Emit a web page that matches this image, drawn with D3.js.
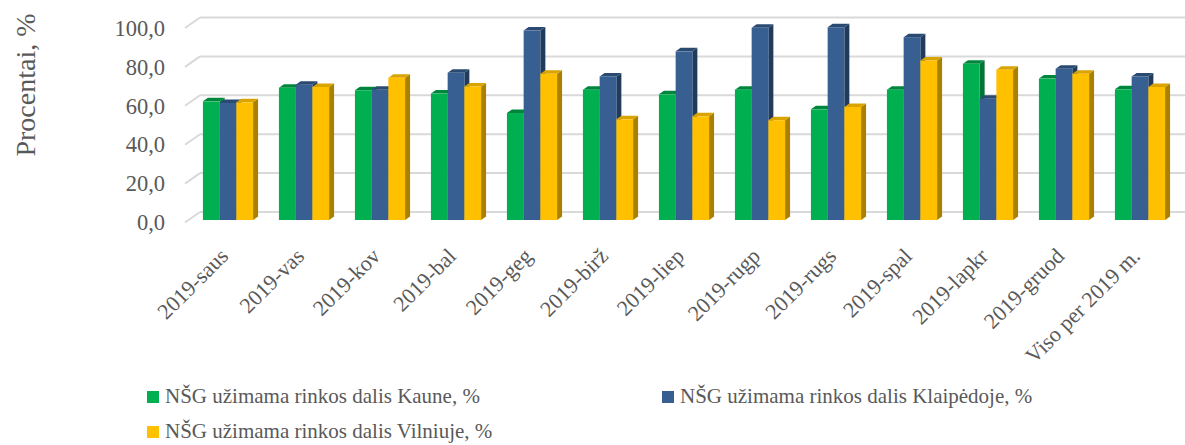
<!DOCTYPE html>
<html>
<head>
<meta charset="utf-8">
<script src="https://cdn.jsdelivr.net/npm/d3@7"></script>
<style>
  body { margin: 0; background: #fff; }
  svg { display: block; font-family: "Liberation Serif", "Times New Roman", serif; }
</style>
</head>
<body>
<svg id="chart" width="1185" height="445"></svg>
<script>
// duomenys
const categories = ['2019-saus', '2019-vas', '2019-kov', '2019-bal', '2019-geg', '2019-birž', '2019-liep',
  '2019-rugp', '2019-rugs', '2019-spal', '2019-lapkr', '2019-gruod', 'Viso per 2019 m.'];
const kaunas   = [61.0, 68.0, 66.7, 65.0, 55.0, 67.0, 64.6, 67.0, 56.9, 67.0, 80.3, 72.7, 67.2];
const klaipeda = [60.2, 69.6, 67.0, 75.7, 97.4, 73.8, 86.7, 98.8, 99.1, 94.0, 62.4, 77.8, 73.8];
const vilnius  = [60.5, 68.4, 73.2, 68.7, 75.2, 51.8, 53.3, 51.3, 58.1, 82.0, 77.3, 75.2, 68.4];
const seriesNames = ['NŠG užimama rinkos dalis Kaune, %', 'NŠG užimama rinkos dalis Klaipėdoje, %',
  'NŠG užimama rinkos dalis Vilniuje, %'];
const yTicks = [0, 20, 40, 60, 80, 100];

const series = [
  { name: seriesNames[0], values: kaunas,   front: '#00b050', top: '#00863c', side: '#007535' },
  { name: seriesNames[1], values: klaipeda, front: '#375f92', top: '#2a4a72', side: '#213b5c' },
  { name: seriesNames[2], values: vilnius,  front: '#ffc000', top: '#d9a300', side: '#a98000' }
];

const svg = d3.select('#chart');
const textColor = '#595959';

// 3D gylis
const depthX = 15, depthY = 10.5;   // sienos
const barDX = 5, barDY = 3.5;       // stulpelio

const x = d3.scaleBand().domain(categories).range([190, 1178]).paddingInner(0.34).paddingOuter(0.17);
const xSub = d3.scaleBand().domain(series.map(s => s.name)).range([0, x.bandwidth()]);
const yBack = d3.scaleLinear().domain([0, 100]).range([212, 17.5]);
const yFront = d3.scaleLinear().domain([0, 100]).range([212 + depthY, 17.5 + depthY]);
const yBar = d3.scaleLinear().domain([0, 100]).range([220, 25.5]);

// tinklelis
const grid = svg.append('g');
grid.selectAll('line.back')
  .data(yTicks)
  .enter()
  .append('line')
  .attr('x1', 200).attr('x2', 1185)
  .attr('y1', d => yBack(d)).attr('y2', d => yBack(d))
  .style('stroke', '#d9d9d9').style('stroke-width', 2);
grid.selectAll('line.diag')
  .data(yTicks)
  .enter()
  .append('line')
  .attr('x1', 200 - depthX).attr('y1', d => yFront(d))
  .attr('x2', 200).attr('y2', d => yBack(d))
  .style('stroke', '#d9d9d9').style('stroke-width', 2);

// y ašis
const yAxis = svg.append('g')
  .attr('transform', 'translate(165,0)')
  .call(d3.axisLeft(yFront).tickValues(yTicks).tickSize(0).tickPadding(0)
    .tickFormat(d => d3.format('.1f')(d).replace('.', ',')));
yAxis.select('.domain').remove();
yAxis.selectAll('text')
  .style('font-family', '"Liberation Serif", "Times New Roman", serif')
  .style('font-size', '22.5px')
  .style('fill', textColor);

svg.append('text')
  .attr('transform', 'translate(35,85) rotate(-90)')
  .attr('text-anchor', 'middle')
  .style('font-size', '28px')
  .style('fill', textColor)
  .text('Procentai, %');

// stulpeliai
const bars = [];
categories.forEach((c, i) => {
  series.forEach(s => bars.push({ cat: c, s: s, value: s.values[i] }));
});

const bar = svg.append('g').selectAll('g')
  .data(bars)
  .enter()
  .append('g');

bar.each(function(d) {
  const g = d3.select(this);
  const x0 = x(d.cat) + xSub(d.s.name);
  const w = xSub.bandwidth();
  const y0 = yBar(d.value);
  const base = yBar(0);
  g.append('polygon')
    .attr('points', [[x0 + w, y0], [x0 + w + barDX, y0 - barDY], [x0 + w + barDX, base - barDY], [x0 + w, base]].join(' '))
    .style('fill', d.s.side);
  g.append('polygon')
    .attr('points', [[x0, y0], [x0 + barDX, y0 - barDY], [x0 + w + barDX, y0 - barDY], [x0 + w, y0]].join(' '))
    .style('fill', d.s.top);
  g.append('rect')
    .attr('x', x0).attr('y', y0)
    .attr('width', w).attr('height', base - y0)
    .style('fill', d.s.front);
});

// x ašies žymės
svg.append('g').selectAll('text')
  .data(categories)
  .enter()
  .append('text')
  .attr('transform', d => `translate(${x(d) + x.bandwidth() / 2 - 4},252) rotate(-45)`)
  .attr('text-anchor', 'end')
  .attr('dy', '0.35em')
  .style('font-size', '22px')
  .style('fill', textColor)
  .text(d => d);

// legenda
const legendPos = [[147, 403], [662, 403], [147, 438]];
const legend = svg.append('g').selectAll('g')
  .data(series)
  .enter()
  .append('g')
  .attr('transform', (d, i) => `translate(${legendPos[i][0]},${legendPos[i][1]})`);
legend.append('rect')
  .attr('x', 0).attr('y', -12)
  .attr('width', 12).attr('height', 12)
  .style('fill', d => d.front);
legend.append('text')
  .attr('x', 18)
  .style('font-size', '21px')
  .style('fill', textColor)
  .text(d => d.name);
</script>
</body>
</html>
